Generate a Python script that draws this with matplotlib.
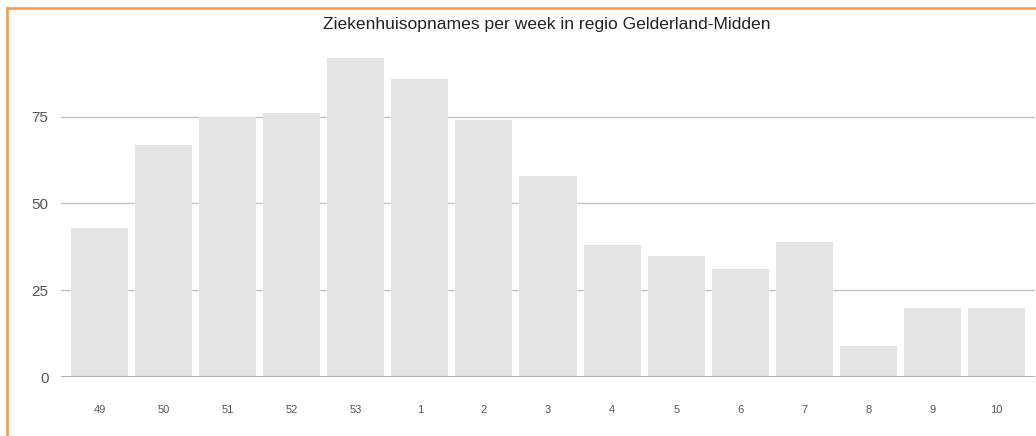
import matplotlib
matplotlib.use("Agg")
import matplotlib.pyplot as plt
from matplotlib.lines import Line2D

weeks = ["49", "50", "51", "52", "53", "1", "2", "3", "4", "5", "6", "7", "8", "9", "10"]
opnames = [43, 67, 75, 76, 92, 86, 74, 58, 38, 35, 31, 39, 9, 20, 20]

plt.rcParams["font.family"] = ["Liberation Sans", "DejaVu Sans"]

W, H = 1036, 436
fig = plt.figure(figsize=(W / 100, H / 100), dpi=100)
ax = fig.add_axes([61 / W, (H - 377) / H, (1035 - 61) / W, (377 - 30) / H])

x = list(range(len(weeks)))
ax.bar(x, opnames, width=0.89, color="#e4e4e4", zorder=2)

ax.set_xlim(-0.6, 14.6)
ax.set_ylim(0, 100)
ax.set_yticks([0, 25, 50, 75])
ax.set_xticks(x)
ax.set_xticklabels(weeks)

ax.grid(axis="y", color="#c4c4c4", linewidth=1, zorder=1)
ax.axhline(0, color="#b0b0b0", linewidth=1.5, zorder=3)
for s in ax.spines.values():
    s.set_visible(False)
ax.tick_params(axis="y", length=0, pad=9, labelsize=11, labelcolor="#555555")
ax.tick_params(axis="x", length=0, pad=20, labelsize=8, labelcolor="#555555")

fig.text(547 / W, (H - 25) / H, "Ziekenhuisopnames per week in regio Gelderland-Midden",
         ha="center", va="center", fontsize=12.6, color="#222222")

# orange frame (left and top)
orange = "#f59a45"
fig.add_artist(Line2D([7 / W, 7 / W], [0, (H - 8) / H], color=orange, linewidth=1.8,
                      transform=fig.transFigure))
fig.add_artist(Line2D([7 / W, 1], [(H - 8) / H, (H - 8) / H], color=orange, linewidth=1.8,
                      transform=fig.transFigure))

fig.savefig("out.png", dpi=100)
